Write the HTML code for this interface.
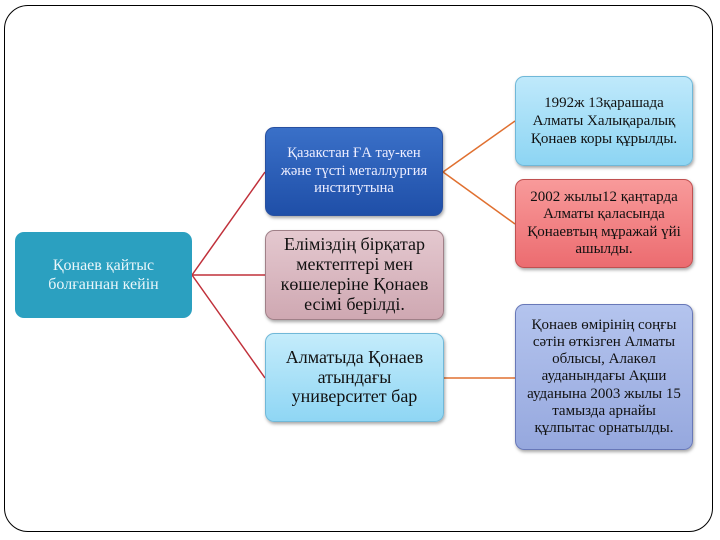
<!DOCTYPE html>
<html><head><meta charset="utf-8"><style>
body{margin:0;width:720px;height:540px;background:#fff;position:relative;overflow:hidden;font-family:"Liberation Serif","DejaVu Serif",serif}
.frame{position:absolute;left:4px;top:5px;width:709px;height:527px;border:1.5px solid #000;border-radius:24px;box-sizing:border-box}
.b{position:absolute;box-sizing:border-box;border-radius:9px;display:flex;align-items:center;justify-content:center;text-align:center;box-shadow:1px 2px 3px rgba(0,0,0,.35);line-height:1.2}
svg{position:absolute;left:0;top:0}
</style></head><body>
<div class="frame"></div>
<svg width="720" height="540">
<g stroke="#c0303a" stroke-width="1.5" fill="none">
<line x1="192" y1="275" x2="265" y2="172"/><line x1="192" y1="275" x2="265" y2="275"/><line x1="192" y1="275" x2="265" y2="378"/>
</g>
<g stroke="#e07030" stroke-width="1.5" fill="none">
<line x1="443" y1="172" x2="515" y2="121"/><line x1="443" y1="172" x2="515" y2="224"/><line x1="444" y1="378" x2="515" y2="378"/>
</g>
</svg>
<div class="b" style="left:15px;top:232px;width:177px;height:86px;background:#2ba0c0;color:#eaf6fa;font-size:16px;box-shadow:none">Қонаев қайтыс<br>болғаннан кейін</div>
<div class="b" style="left:265px;top:127px;width:178px;height:89px;background:linear-gradient(#3a70c8,#1f4fa8);color:#eef;font-size:14.5px;border:1px solid #2850a0">Қазакстан ҒА тау-кен<br>және түсті металлургия<br>институтына</div>
<div class="b" style="left:265px;top:230px;width:179px;height:90px;background:linear-gradient(#e4c8cf,#cfa8b2);color:#111;font-size:18px;line-height:1.1;border:1px solid #a08088">Еліміздің бірқатар<br>мектептері мен<br>көшелеріне Қонаев<br>есімі берілді.</div>
<div class="b" style="left:265px;top:333px;width:179px;height:89px;background:linear-gradient(#c4ecfb,#8fd6f4);color:#111;font-size:18px;line-height:1.1;border:1px solid #70b8d8">Алматыда Қонаев<br>атындағы<br>университет бар</div>
<div class="b" style="left:515px;top:76px;width:178px;height:90px;background:linear-gradient(#bfe9fb,#8dd5f3);color:#111;font-size:15px;line-height:1.22;border:1px solid #70b8d8">1992ж 13қарашада<br>Алматы Халықаралық<br>Қонаев коры құрылды.</div>
<div class="b" style="left:515px;top:179px;width:178px;height:89px;background:linear-gradient(#f89a9a,#ec6c70);color:#111;font-size:15px;line-height:1.15;border:1px solid #c05050">2002 жылы12 қаңтарда<br>Алматы қаласында<br>Қонаевтың мұражай үйі<br>ашылды.</div>
<div class="b" style="left:515px;top:304px;width:178px;height:146px;background:linear-gradient(#b4c4ee,#96a8de);color:#111;font-size:15px;line-height:1.15;border:1px solid #6878b8">Қонаев өмірінің соңғы<br>сәтін өткізген Алматы<br>облысы, Алакөл<br>ауданындағы Ақши<br>ауданына 2003 жылы 15<br>тамызда арнайы<br>құлпытас орнатылды.</div>
</body></html>
